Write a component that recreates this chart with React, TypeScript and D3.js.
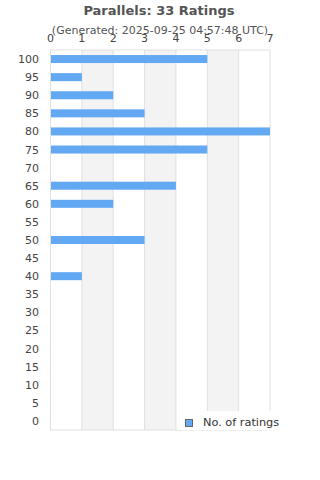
import React from 'react';
import * as d3 from 'd3';

// ratings per score bucket
const scores = [100, 95, 90, 85, 80, 75, 70, 65, 60, 55, 50, 45, 40, 35, 30, 25, 20, 15, 10, 5, 0];
const counts = [5, 1, 2, 3, 7, 5, 0, 4, 2, 0, 3, 0, 1, 0, 0, 0, 0, 0, 0, 0, 0];
const xTicks = [0, 1, 2, 3, 4, 5, 6, 7];

const W = 320, H = 480;
const margins = { left: 50.5, right: 50, top: 50, bottom: 50 };
const font = 'DejaVu Sans, sans-serif';

const App = () => {
    const xScale = d3.scaleLinear().domain([0, 7]).range([margins.left, W - margins.right]);
    const yScale = d3.scaleBand<number>()
        .domain(scores)
        .range([margins.top, H - margins.bottom]);
    const barH = 8;
    const bottom = H - margins.bottom;

    return (
        <svg width={W} height={H} style={{ position: 'absolute', left: 0, top: 0 }} fontFamily={font}>
            <text x={159} y={15} textAnchor="middle" fontSize="13" fontWeight="bold" fill="#555">Parallels: 33 Ratings</text>
            <text x={160} y={34} textAnchor="middle" fontSize="11" fill="#555">(Generated: 2025-09-25 04:57:48 UTC)</text>

            {/* alternating bands */}
            {xTicks.slice(0, -1).filter(t => t % 2 === 1).map(t => (
                <rect key={'b' + t} x={xScale(t)} y={margins.top} width={xScale(t + 1) - xScale(t)}
                    height={bottom - margins.top} fill="#f3f3f3" />
            ))}
            {xTicks.map(t => (
                <line key={'g' + t} x1={xScale(t)} x2={xScale(t)} y1={margins.top} y2={bottom} stroke="#e0e0e0" strokeWidth={1} />
            ))}
            <line x1={margins.left} x2={xScale(7)} y1={margins.top} y2={margins.top} stroke="#e0e0e0" />
            <line x1={margins.left} x2={xScale(7)} y1={bottom} y2={bottom} stroke="#e0e0e0" />

            {xTicks.map(t => (
                <text key={'xt' + t} x={xScale(t)} y={42} textAnchor="middle" fontSize="11" fill="#444">{t}</text>
            ))}
            {scores.map(s => (
                <text key={'yt' + s} x={39} y={yScale(s)! + yScale.bandwidth() / 2 + 4} textAnchor="end" fontSize="11" fill="#444">{s}</text>
            ))}

            {scores.map((s, i) => counts[i] > 0 ? (
                <rect key={'bar' + s} x={xScale(0) + 0.5} y={yScale(s)! + yScale.bandwidth() / 2 - barH / 2}
                    width={xScale(counts[i]) - xScale(0) - 0.5} height={barH} fill="#62a8f2" />
            ) : null)}

            {/* legend */}
            <rect x={178} y={411} width={112} height={19} fill="#fff" />
            <rect x={185.5} y={419.5} width={7} height={7} fill="#62a8f2" stroke="#666" strokeWidth={1} />
            <text x={203} y={426} fontSize="11.3" fill="#333">No. of ratings</text>
        </svg>
    );
};

export default App;
